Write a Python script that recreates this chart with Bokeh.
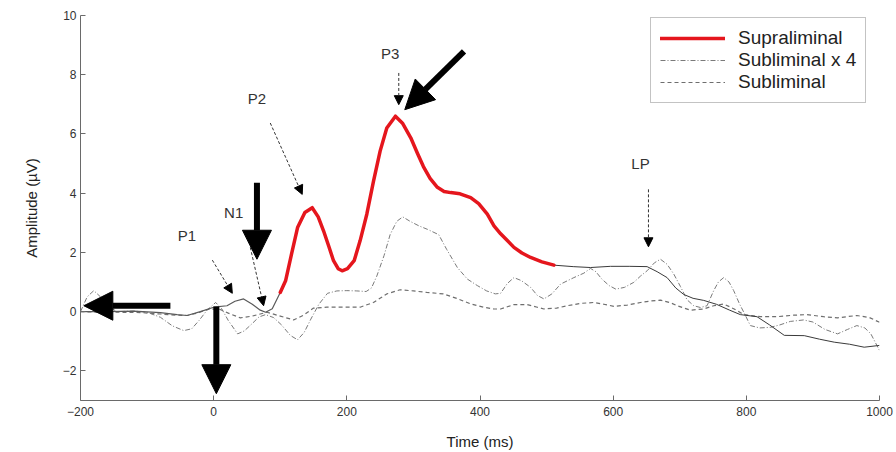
import numpy as np
from bokeh.plotting import figure
from bokeh.models import (Range1d, FixedTicker, Arrow, NormalHead, Legend, LegendItem)
from bokeh.core.properties import value
from bokeh.embed import file_html
from bokeh.resources import INLINE

# ---------------- data ----------------
sup_t = [-200, -160, -120, -80, -55, -40, -20, 0, 20, 32, 45, 58, 70, 78, 88, 100,
         108, 117, 126, 137, 148, 157, 165, 173, 180, 187, 193, 201, 211, 220, 230,
         240, 250, 260, 273, 284, 296, 306, 315, 325, 336, 346, 356, 370, 386, 398,
         411, 421, 431, 441, 451, 463, 476, 493, 511,
         540, 566, 596, 625, 651, 666, 681, 694, 706, 720, 736, 755, 775, 791, 816,
         835, 857, 887, 910, 932, 955, 977, 1000]
sup_v = [0.0, 0.0, 0.02, -0.03, -0.1, -0.13, 0.0, 0.15, 0.2, 0.35, 0.43, 0.25, 0.05, -0.02, 0.1, 0.65,
         1.04, 1.95, 2.84, 3.35, 3.51, 3.2, 2.73, 2.2, 1.72, 1.45, 1.38, 1.45, 1.72, 2.4, 3.29,
         4.4, 5.42, 6.2, 6.6, 6.35, 5.87, 5.35, 4.9, 4.5, 4.2, 4.06, 4.02, 3.98, 3.85, 3.65,
         3.29, 2.9, 2.63, 2.4, 2.17, 1.98, 1.83, 1.68, 1.57,
         1.52, 1.49, 1.53, 1.53, 1.52, 1.35, 1.15, 0.8, 0.58, 0.45, 0.38, 0.25, 0.05, -0.1, -0.17,
         -0.45, -0.8, -0.81, -0.93, -1.03, -1.1, -1.2, -1.14]
red_from, red_to = 100, 511   # time span drawn in red (Supraliminal)

subx4_t = [-200, -190, -180, -170, -160, -145, -120, -100, -80, -62, -45, -33, -22, -10, 3, 12,
           22, 36, 46, 57, 68, 78, 90, 102, 115, 126, 136, 146, 158, 171, 185, 200, 215, 229,
           237, 245, 256, 265, 275, 284, 295, 308, 321, 338, 350, 366, 381, 396, 410, 423,
           431, 441, 451, 462, 476, 486, 496, 508, 521, 541, 556, 566, 574, 583, 594, 604,
           617, 631, 641, 651, 662, 671, 681, 691, 701, 711, 721, 731, 741, 751, 758, 766,
           774, 781, 790, 798, 806, 820, 836, 850, 866, 886, 900, 918, 937, 952, 966, 978,
           987, 1000]
subx4_v = [0.0, 0.5, 0.71, 0.5, 0.2, 0.0, 0.02, -0.02, -0.19, -0.48, -0.64, -0.58, -0.3, 0.05, 0.31, 0.1,
           -0.3, -0.75, -0.65, -0.42, -0.18, -0.1, -0.2, -0.45, -0.8, -0.95, -0.7, -0.25, 0.25, 0.62, 0.7, 0.71, 0.7, 0.68,
           0.8, 1.2, 1.9, 2.6, 3.05, 3.2, 3.05, 2.9, 2.78, 2.6, 2.1, 1.49, 1.1, 0.88, 0.7, 0.6,
           0.62, 0.95, 1.15, 1.05, 0.82, 0.55, 0.43, 0.6, 0.93, 1.15, 1.3, 1.46, 1.35, 1.1, 0.88, 0.76,
           0.82, 0.99, 1.2, 1.38, 1.65, 1.77, 1.6, 1.27, 0.85, 0.4, 0.2, 0.14, 0.2, 0.71, 1.0, 1.15,
           1.0, 0.71, 0.25, -0.1, -0.47, -0.55, -0.53, -0.45, -0.33, -0.28, -0.35, -0.6, -0.75, -0.6, -0.47, -0.55,
           -0.75, -1.31]

sub_t = [-200, -170, -140, -110, -80, -55, -40, -25, -8, 8, 22, 40, 58, 80, 100, 120, 135, 150,
         170, 196, 220, 240, 260, 280, 300, 320, 345, 365, 386, 405, 421, 431, 451, 471, 486,
         496, 515, 531, 551, 571, 586, 601, 621, 641, 656, 671, 686, 696, 716, 736, 751, 766,
         781, 796, 821, 846, 871, 891, 916, 937, 951, 966, 985, 1000]
sub_v = [0.0, -0.02, -0.02, -0.03, -0.08, -0.12, -0.13, -0.05, 0.08, 0.09, -0.05, -0.21, -0.15, -0.02, -0.15, -0.28, -0.12, 0.12,
         0.15, 0.15, 0.15, 0.31, 0.6, 0.74, 0.7, 0.65, 0.6, 0.45, 0.26, 0.15, 0.09, 0.09, 0.24, 0.24, 0.15,
         0.09, 0.12, 0.2, 0.28, 0.31, 0.25, 0.18, 0.22, 0.31, 0.36, 0.39, 0.3, 0.2, 0.05, 0.09, 0.2, 0.26,
         0.1, -0.1, -0.17, -0.17, -0.12, -0.1, -0.17, -0.21, -0.17, -0.13, -0.2, -0.36]

x_ticks = [-200, 0, 200, 400, 600, 800, 1000]
y_ticks = [-2, 0, 2, 4, 6, 8, 10]
legend_labels = ["Supraliminal", "Subliminal x 4", "Subliminal"]

# component labels and their thin dashed pointer arrows (data units)
comp_names = ["P1", "N1", "P2", "P3", "LP"]
comp_label_t = [-40, 30, 65, 265, 641]
comp_label_v = [2.56, 3.34, 7.2, 8.73, 4.99]
comp_arrow_t0 = [-2, 55, 85, 278, 653]
comp_arrow_v0 = [1.74, 2.17, 6.37, 8.06, 4.13]
comp_arrow_t1 = [28, 75, 133, 278, 653]
comp_arrow_v1 = [0.62, 0.2, 3.96, 6.99, 2.19]

# big black arrows (data units)
big_t0 = [-65, 4, 65, 376]
big_v0 = [0.2, 0.17, 4.35, 8.79]
big_t1 = [-195, 4, 65, 287]
big_v1 = [0.2, -2.77, 1.77, 6.82]

# ---------------- figure ----------------
FONT = "Liberation Sans"
p = figure(width=896, height=452, x_range=Range1d(-200, 1000), y_range=Range1d(-3, 10),
           output_backend="svg", toolbar_location=None, title=None,
           min_border_left=80, min_border_right=17, min_border_top=15, min_border_bottom=50)
p.outline_line_color = None
p.xgrid.grid_line_color = None
p.ygrid.grid_line_color = None

for ax in (p.xaxis[0], p.yaxis[0]):
    ax.axis_line_color = "#6a6a6a"
    ax.major_tick_line_color = "#6a6a6a"
    ax.major_tick_in = 5
    ax.major_tick_out = 0
    ax.minor_tick_line_color = None
    ax.major_label_text_font = FONT
    ax.major_label_text_font_size = "12px"
    ax.major_label_text_color = "#333333"
    ax.axis_label_text_font = FONT
    ax.axis_label_text_font_size = "15px"
    ax.axis_label_text_font_style = "normal"
    ax.axis_label_text_color = "#222222"

p.xaxis.ticker = FixedTicker(ticks=x_ticks)
p.yaxis.ticker = FixedTicker(ticks=y_ticks)
p.xaxis.axis_label = "Time (ms)"
p.yaxis.axis_label = "Amplitude (\u00b5V)"
p.xaxis.major_label_standoff = 6
p.yaxis.major_label_standoff = 4
p.xaxis.axis_label_standoff = 14
p.yaxis.axis_label_standoff = 20

# ---------------- curves ----------------
st = np.array(sup_t, dtype=float)
sv = np.array(sup_v, dtype=float)
pre = st <= red_from
mid = (st >= red_from) & (st <= red_to)
post = st >= red_to

sub_r = p.line(sub_t, sub_v, line_color="#6e6e6e", line_width=1.2, line_dash="4 3")
x4_r = p.line(subx4_t, subx4_v, line_color="#7a7a7a", line_width=1.0, line_dash="5 2 1 2")
p.line(st[pre], sv[pre], line_color="#5a5a5a", line_width=1.2)
p.line(st[post], sv[post], line_color="#3a3a3a", line_width=1.0)
red_r = p.line(st[mid], sv[mid], line_color="#e5161d", line_width=3.5,
               line_join="round", line_cap="round")

# ---------------- annotations ----------------
p.text(x=comp_label_t, y=comp_label_v, text=comp_names, text_font=value(FONT),
       text_font_size="15px", text_color="#333333", text_align="center",
       text_baseline="middle")

for t0, v0, t1, v1 in zip(comp_arrow_t0, comp_arrow_v0, comp_arrow_t1, comp_arrow_v1):
    p.add_layout(Arrow(x_start=t0, y_start=v0, x_end=t1, y_end=v1,
                       line_color="#333333", line_width=1, line_dash="3 2",
                       end=NormalHead(size=9, fill_color="black", line_color="black",
                                      line_width=1)))

for t0, v0, t1, v1 in zip(big_t0, big_v0, big_t1, big_v1):
    p.add_layout(Arrow(x_start=t0, y_start=v0, x_end=t1, y_end=v1,
                       line_color="black", line_width=6,
                       end=NormalHead(size=29, fill_color="black", line_color="black",
                                      line_width=1)))

# ---------------- legend ----------------
legend = Legend(items=[LegendItem(label=legend_labels[0], renderers=[red_r]),
                       LegendItem(label=legend_labels[1], renderers=[x4_r]),
                       LegendItem(label=legend_labels[2], renderers=[sub_r])],
                location=(570, 297), orientation="vertical",
                label_text_font=FONT, label_text_font_size="19px",
                label_text_color="#222222",
                glyph_width=65, glyph_height=18, label_height=18, spacing=-2,
                padding=9, label_standoff=13, margin=0,
                border_line_color="#888888", border_line_width=1,
                background_fill_color="white", background_fill_alpha=1.0)
p.add_layout(legend)

open("out.html", "w").write(file_html(p, INLINE))
